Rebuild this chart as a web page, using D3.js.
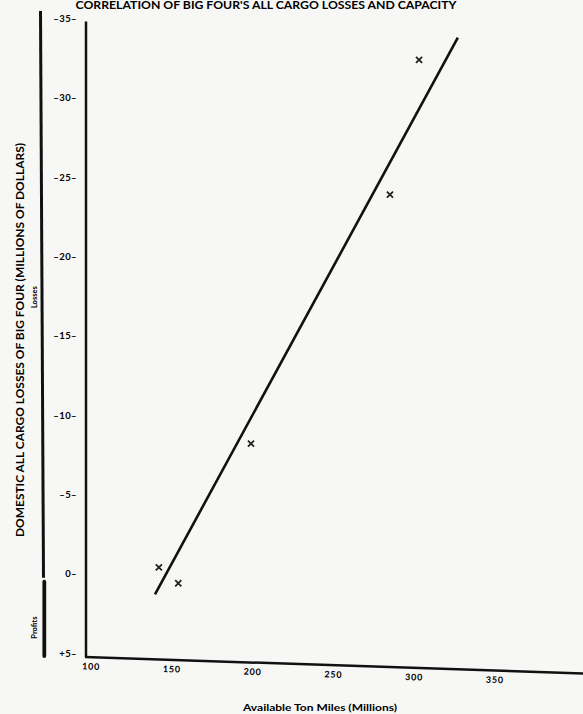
<!DOCTYPE html>
<html>
<head>
<meta charset="utf-8">
<script src="https://cdn.jsdelivr.net/npm/d3@7"></script>
<style>
  body { margin: 0; background: #f7f7f5; }
  svg { display: block; font-family: Lato, "DejaVu Sans", sans-serif; font-weight: bold; }
</style>
</head>
<body>
<svg id="chart"></svg>
<script>
// available ton miles (millions) vs. result in millions of dollars (negative = losses)
const tonMiles = [303, 285, 199, 142, 154];
const result = [-32.4, -23.9, -8.2, -0.4, 0.6];
// end points of the fitted line
const fitTonMiles = [139.6, 327];
const fitResult = [1.3, -33.8];
const xTicks = [100, 150, 200, 250, 300, 350];
const yTicks = [-35, -30, -25, -20, -15, -10, -5, 0, 5];

let svg = d3.select("#chart").attr("width", 583).attr("height", 714);

let x = d3.scaleLinear().domain([100, 350]).range([91, 495]),
  y = d3.scaleLinear().domain([-35, 5]).range([18.6, 653]);

// title at the very top of the page
svg.append("text")
  .attr("x", 266)
  .attr("y", 8.5)
  .attr("text-anchor", "middle")
  .attr("font-size", "10.5px")
  .attr("textLength", 381)
  .attr("lengthAdjust", "spacingAndGlyphs")
  .text("CORRELATION OF BIG FOUR'S ALL CARGO LOSSES AND CAPACITY");

// y axis
let yAxis = svg.append("g")
  .attr("transform", "translate(86,0)")
  .call(d3.axisLeft(y).tickValues(yTicks).tickSize(0).tickPadding(9)
    .tickFormat((d) => (d < 0 ? "–" + -d : (d > 0 ? "+" + d : d)) + "–"));
yAxis.select(".domain").remove();
yAxis.attr("font-family", null).attr("font-size", "9.5px");
yAxis.selectAll("text").attr("letter-spacing", "0.4px");

svg.append("line")
  .attr("x1", 86).attr("x2", 86)
  .attr("y1", y(-35) + 3).attr("y2", y(5) + 4)
  .attr("stroke", "#111")
  .attr("stroke-width", 2.5);

// losses / profits brackets
svg.append("line")
  .attr("x1", 40.5).attr("x2", 43.5)
  .attr("y1", y(-35) - 7.6).attr("y2", y(0) + 4)
  .attr("stroke", "#111")
  .attr("stroke-width", 3);
svg.append("line")
  .attr("x1", 44.3).attr("x2", 44.3)
  .attr("y1", y(0) + 8).attr("y2", y(5) + 3)
  .attr("stroke", "#111")
  .attr("stroke-width", 3.8)
  .attr("stroke-linecap", "round");

svg.append("text")
  .attr("transform", "translate(36.5," + (y(-17.5) + 1) + ") rotate(-90)")
  .attr("text-anchor", "middle")
  .attr("font-size", "7.5px")
  .text("Losses");
svg.append("text")
  .attr("transform", "translate(36.5," + y(3.4) + ") rotate(-90)")
  .attr("text-anchor", "middle")
  .attr("font-size", "7.5px")
  .text("Profits");

svg.append("text")
  .attr("transform", "translate(23.5,340) rotate(-90)")
  .attr("text-anchor", "middle")
  .attr("font-size", "11px")
  .attr("textLength", 394)
  .attr("lengthAdjust", "spacingAndGlyphs")
  .text("DOMESTIC ALL CARGO LOSSES OF BIG FOUR (MILLIONS OF DOLLARS)");

// x axis, slightly skewed like the scan
let xAxis = svg.append("g")
  .attr("transform", "rotate(1.9,86,657) translate(0,657)")
  .call(d3.axisBottom(x).tickValues(xTicks).tickSize(0).tickPadding(6));
xAxis.select(".domain").remove();
xAxis.attr("font-family", null).attr("font-size", "9px");
xAxis.selectAll("text").attr("letter-spacing", "0.8px");

xAxis.append("line")
  .attr("x1", 85).attr("x2", 600)
  .attr("stroke", "#111")
  .attr("stroke-width", 2.5);

svg.append("text")
  .attr("x", 320)
  .attr("y", 711)
  .attr("text-anchor", "middle")
  .attr("font-size", "9px")
  .attr("textLength", 154)
  .attr("lengthAdjust", "spacingAndGlyphs")
  .text("Available Ton Miles (Millions)");

// fitted line
let fit = d3.zip(fitTonMiles, fitResult);
svg.append("path")
  .datum(fit)
  .attr("fill", "none")
  .attr("stroke", "#111")
  .attr("stroke-width", 2.6)
  .attr("d", d3.line().x((d) => x(d[0])).y((d) => y(d[1])));

// observations
svg.selectAll(".point")
  .data(d3.zip(tonMiles, result))
  .enter()
  .append("path")
  .attr("class", "point")
  .attr("transform", (d) => "translate(" + x(d[0]) + "," + y(d[1]) + ")")
  .attr("d", d3.symbol(d3.symbolX, 26))
  .attr("fill", "none")
  .attr("stroke", "#222")
  .attr("stroke-width", 1.8);
</script>
</body>
</html>
